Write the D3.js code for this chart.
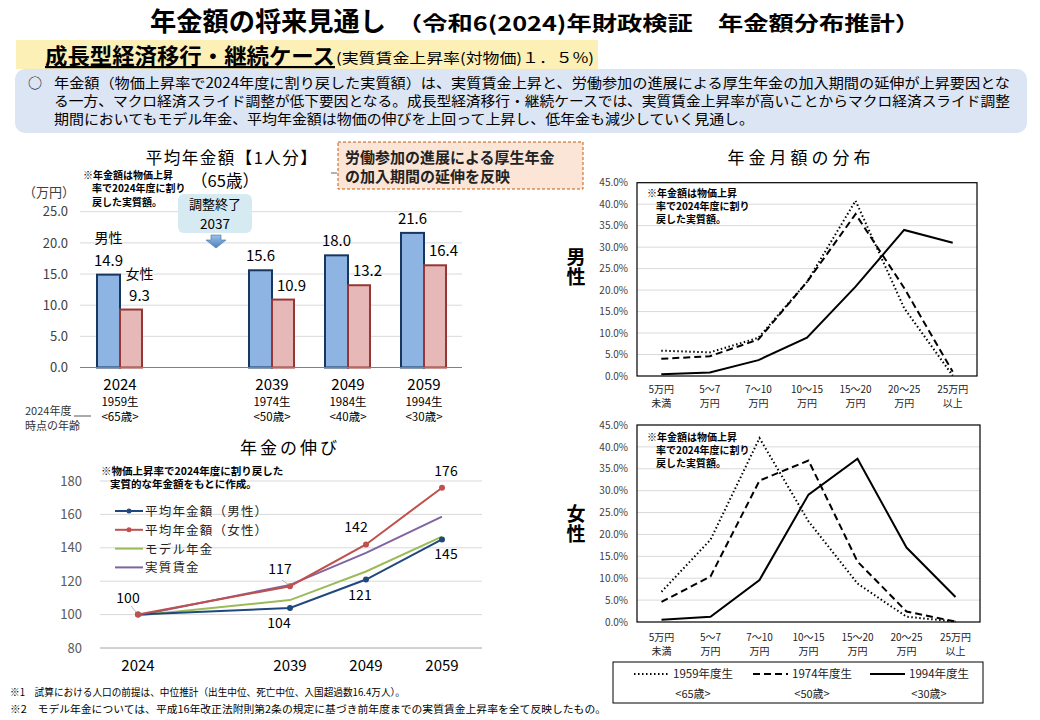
<!DOCTYPE html>
<html><head><meta charset="utf-8">
<script src="https://cdn.jsdelivr.net/npm/d3@7"></script>
<style>
body{margin:0;background:#fff;}
svg{font-family:"Noto Sans CJK JP","Noto Sans",sans-serif;}
</style></head><body>
<svg id="c" width="1040" height="720"></svg>
<script>
// ---------- data ----------
const barYears = ["2024", "2039", "2049", "2059"];
const birthLabels = ["1959生", "1974生", "1984生", "1994生"];
const ageLabels = ["<65歳>", "<50歳>", "<40歳>", "<30歳>"];
const barMale = [14.9, 15.6, 18.0, 21.6];
const barFemale = [9.3, 10.9, 13.2, 16.4];
const barTicks = [0, 5, 10, 15, 20, 25];

const growthYears = ["2024", "2039", "2049", "2059"];
const growthMale = [100, 104, 121, 145];
const growthFemale = [100, 117, 142, 176];
const growthModel = [99.5, 108.7, 125.8, 146.7];
const growthWage = [99.5, 117.8, 137.0, 158.7];
const growthTicks = [80, 100, 120, 140, 160, 180];
const growthNames = ["平均年金額（男性）", "平均年金額（女性）", "モデル年金", "実質賃金"];

const distCats = ["5万円|未満", "5～7|万円", "7～10|万円", "10～15|万円", "15～20|万円", "20～25|万円", "25万円|以上"];
const distCohorts = ["1959年度生", "1974年度生", "1994年度生"];
const distAges = ["<65歳>", "<50歳>", "<30歳>"];
const male1959 = [5.9, 5.5, 8.9, 21.9, 40.8, 15.8, 0.1];
const male1974 = [4.0, 4.6, 8.5, 21.9, 37.7, 20.5, 1.0];
const male1994 = [0.4, 0.8, 3.7, 8.9, 20.8, 34.0, 31.0];
const female1959 = [6.9, 18.8, 42.0, 23.0, 8.8, 1.2, 0.1];
const female1974 = [4.6, 10.4, 32.3, 36.9, 13.8, 2.4, 0.1];
const female1994 = [0.5, 1.2, 9.6, 29.1, 37.3, 17.0, 5.7];
const distTicks = [0, 5, 10, 15, 20, 25, 30, 35, 40, 45];

// ---------- setup ----------
const svg = d3.select("#c");
const JP = '"Noto Sans CJK JP","Noto Sans",sans-serif';

function txt(g, x, y, s, opt = {}) {
  const t = g.append("text").attr("x", x).attr("y", y).text(s)
    .attr("font-size", opt.size || 12)
    .attr("fill", opt.fill || "#000")
    .attr("text-anchor", opt.anchor || "start");
  if (opt.weight) t.attr("font-weight", opt.weight);
  if (opt.ls) t.attr("letter-spacing", opt.ls);
  if (opt.len) t.attr("textLength", opt.len).attr("lengthAdjust", opt.adj || "spacing");
  if (opt.deco) t.attr("text-decoration", opt.deco);
  if (opt.vertical) t.style("writing-mode", "vertical-rl");
  return t;
}

// ---------- header ----------
txt(svg, 150, 31, "年金額の将来見通し", {size: 26, weight: 700, len: 236, adj: "spacingAndGlyphs"});
txt(svg, 397, 31, "（令和6(2024)年財政検証　年金額分布推計）", {size: 20, weight: 700, len: 523, adj: "spacingAndGlyphs"});

svg.append("rect").attr("x", 16).attr("y", 40).attr("width", 582).attr("height", 29).attr("fill", "#fdf0b6");
txt(svg, 45, 64, "成長型経済移行・継続ケース", {size: 22, weight: 700, deco: "underline", len: 290, adj: "spacingAndGlyphs"});
txt(svg, 336, 63, "(実質賃金上昇率(対物価)１．５%)", {size: 14, len: 258, adj: "spacingAndGlyphs"});

svg.append("rect").attr("x", 15).attr("y", 69).attr("width", 1012).attr("height", 64).attr("rx", 10)
  .attr("fill", "#dce5f3");
txt(svg, 28, 88, "○", {size: 14});
txt(svg, 54, 88, "年金額（物価上昇率で2024年度に割り戻した実質額）は、実質賃金上昇と、労働参加の進展による厚生年金の加入期間の延伸が上昇要因とな", {size: 14, len: 956, adj: "spacingAndGlyphs"});
txt(svg, 54, 106, "る一方、マクロ経済スライド調整が低下要因となる。成長型経済移行・継続ケースでは、実質賃金上昇率が高いことからマクロ経済スライド調整", {size: 14, len: 956, adj: "spacingAndGlyphs"});
txt(svg, 54, 124, "期間においてもモデル年金、平均年金額は物価の伸びを上回って上昇し、低年金も減少していく見通し。", {size: 14, len: 700, adj: "spacingAndGlyphs"});

// ---------- bar chart ----------
const gB = svg.append("g");
const slotsB = [barYears[0], "gap", ...barYears.slice(1)];
const xB = d3.scaleBand().domain(slotsB).range([82, 462]);
const yB = d3.scaleLinear().domain([0, 25]).range([367.5, 211.7]);
const bw = 23;

gB.selectAll(".grid").data(barTicks.slice(1)).join("line")
  .attr("x1", 80).attr("x2", 462).attr("y1", d => yB(d)).attr("y2", d => yB(d))
  .attr("stroke", "#d9d9d9").attr("stroke-width", 1);
const axB = gB.append("g").attr("transform", "translate(70,0)")
  .call(d3.axisLeft(yB).tickValues(barTicks).tickFormat(d3.format(".1f")).tickSize(0).tickPadding(2));
axB.select(".domain").remove();
axB.selectAll("text").attr("font-family", JP).attr("font-size", 13).attr("fill", "#404040");
txt(gB, 49, 197, "（万円）", {size: 13, anchor: "middle", fill: "#404040"});

const bData = barYears.map((y, i) => ({y, m: barMale[i], f: barFemale[i], i}));
gB.selectAll(".bm").data(bData).join("rect")
  .attr("x", d => xB(d.y) + xB.bandwidth() / 2 - bw)
  .attr("y", d => yB(d.m)).attr("width", bw).attr("height", d => yB(0) - yB(d.m))
  .attr("fill", "#8eb4e3").attr("stroke", "#17375e").attr("stroke-width", 2);
gB.selectAll(".bf").data(bData).join("rect")
  .attr("x", d => xB(d.y) + xB.bandwidth() / 2)
  .attr("y", d => yB(d.f)).attr("width", bw - 1).attr("height", d => yB(0) - yB(d.f))
  .attr("fill", "#e6b9b8").attr("stroke", "#953735").attr("stroke-width", 2);
gB.append("line").attr("x1", 80).attr("x2", 462).attr("y1", yB(0)).attr("y2", yB(0))
  .attr("stroke", "#808080").attr("stroke-width", 1.2);

bData.forEach(d => {
  const cx = xB(d.y) + xB.bandwidth() / 2;
  txt(gB, cx - bw / 2, yB(d.m) - 9, d.m.toFixed(1), {size: 15, anchor: "middle"});
  txt(gB, cx + bw / 2 + 8, yB(d.f) - 9, d.f.toFixed(1), {size: 15, anchor: "middle"});
  txt(gB, cx, 390, d.y, {size: 15, anchor: "middle"});
  txt(gB, cx, 406, birthLabels[d.i], {size: 11.5, anchor: "middle"});
  txt(gB, cx, 421, ageLabels[d.i], {size: 11.5, anchor: "middle"});
});
{
  const cx0 = xB(barYears[0]) + xB.bandwidth() / 2;
  txt(gB, cx0 - bw / 2, yB(barMale[0]) - 32, "男性", {size: 14, anchor: "middle"});
  txt(gB, cx0 + bw / 2 + 8, yB(barFemale[0]) - 31, "女性", {size: 14, anchor: "middle"});
}
txt(gB, 25, 415, "2024年度", {size: 11, fill: "#333"});
txt(gB, 25, 430, "時点の年齢", {size: 11, fill: "#333"});
gB.append("line").attr("x1", 74).attr("x2", 91).attr("y1", 416).attr("y2", 416).attr("stroke", "#555");

txt(gB, 232, 164, "平均年金額【1人分】", {size: 16.5, anchor: "middle", ls: 1.5});
txt(gB, 225, 187, "（65歳）", {size: 16.5, anchor: "middle"});
txt(gB, 83, 179, "※年金額は物価上昇", {size: 10, weight: 700});
txt(gB, 92, 192, "率で2024年度に割り", {size: 10, weight: 700});
txt(gB, 92, 206, "戻した実質額。", {size: 10, weight: 700});

// callout
gB.append("rect").attr("x", 178).attr("y", 194).attr("width", 74).attr("height", 39).attr("rx", 6).attr("fill", "#d6eaf2");
txt(gB, 215, 209, "調整終了", {size: 13, anchor: "middle"});
txt(gB, 215, 229, "2037", {size: 13.5, anchor: "middle"});
const grad = svg.append("defs").append("linearGradient").attr("id", "ag").attr("x1", 0).attr("x2", 0).attr("y1", 0).attr("y2", 1);
grad.append("stop").attr("offset", 0).attr("stop-color", "#9dc3e6");
grad.append("stop").attr("offset", 1).attr("stop-color", "#4a7fc1");
gB.append("path").attr("d", "M211,235 L221,235 L221,240 L226,240 L216,248 L206,240 L211,240 Z")
  .attr("fill", "url(#ag)").attr("stroke", "#41719c").attr("stroke-width", 0.6);

// orange box
gB.append("line").attr("x1", 331).attr("x2", 337).attr("y1", 173).attr("y2", 173).attr("stroke", "#666");
gB.append("rect").attr("x", 338).attr("y", 142).attr("width", 245).attr("height", 47)
  .attr("fill", "#fbe5d6").attr("stroke", "#c55a11").attr("stroke-dasharray", "3,2").attr("stroke-width", 1);
txt(gB, 345, 163, "労働参加の進展による厚生年金", {size: 15, weight: 700, fill: "#222"});
txt(gB, 345, 182, "の加入期間の延伸を反映", {size: 15, weight: 700, fill: "#222"});

// ---------- growth line chart ----------
const gL = svg.append("g");
const slotsL = [growthYears[0], "gap", ...growthYears.slice(1)];
const xL = d3.scaleBand().domain(slotsL).range([100, 480]);
const yL = d3.scaleLinear().domain([80, 180]).range([648, 481]);
const px = y => xL(y) + xL.bandwidth() / 2;

gL.selectAll(".grid").data(growthTicks).join("line")
  .attr("x1", 100).attr("x2", 482).attr("y1", d => yL(d)).attr("y2", d => yL(d))
  .attr("stroke", d => d === 80 ? "#a6a6a6" : "#d9d9d9").attr("stroke-width", 1);
const axL = gL.append("g").attr("transform", "translate(84,0)")
  .call(d3.axisLeft(yL).tickValues(growthTicks).tickSize(0).tickPadding(2));
axL.select(".domain").remove();
axL.selectAll("text").attr("font-family", JP).attr("font-size", 13).attr("fill", "#595959");
growthYears.forEach(y => txt(gL, px(y), 671, y, {size: 15, anchor: "middle"}));

const series = [
  {v: growthWage, c: "#8064a2", dot: false},
  {v: growthModel, c: "#9bbb59", dot: false},
  {v: growthMale, c: "#1f497d", dot: true},
  {v: growthFemale, c: "#c0504d", dot: true},
];
const line = d3.line().x((d, i) => px(growthYears[i])).y(d => yL(d));
series.forEach(s => {
  gL.append("path").attr("d", line(s.v)).attr("fill", "none").attr("stroke", s.c).attr("stroke-width", 2);
  if (s.dot) gL.selectAll(null).data(s.v).join("circle")
    .attr("cx", (d, i) => px(growthYears[i])).attr("cy", d => yL(d)).attr("r", 3).attr("fill", s.c);
});
// labels
growthFemale.forEach((v, i) => {
  const dx = i === 3 ? 4 : -10;
  txt(gL, px(growthYears[i]) + dx, yL(v) - 12, String(v), {size: 14, anchor: "middle"});
});
growthMale.forEach((v, i) => {
  if (i === 0) return;
  const dx = i === 3 ? 4 : (i === 1 ? -11 : -6);
  txt(gL, px(growthYears[i]) + dx, yL(v) + 20, String(v), {size: 14, anchor: "middle"});
});
gL.append("line").attr("x1", 136).attr("y1", 612).attr("x2", 131).attr("y2", 606).attr("stroke", "#999").attr("stroke-width", 0.7);
gL.append("line").attr("x1", 289).attr("y1", 585).attr("x2", 282).attr("y2", 580).attr("stroke", "#999").attr("stroke-width", 0.7);

// legend
const legColors = ["#1f497d", "#c0504d", "#9bbb59", "#8064a2"];
growthNames.forEach((n, i) => {
  const y = 511 + i * 18.8;
  gL.append("line").attr("x1", 115).attr("x2", 143).attr("y1", y).attr("y2", y).attr("stroke", legColors[i]).attr("stroke-width", 2);
  if (i < 2) gL.append("circle").attr("cx", 129).attr("cy", y).attr("r", 2.5).attr("fill", legColors[i]);
  txt(gL, 145, y + 5, n, {size: 12.5, ls: 1.2, fill: "#222"});
});
txt(gL, 290, 454, "年金の伸び", {size: 17, anchor: "middle", ls: 3});
txt(gL, 101, 475, "※物価上昇率で2024年度に割り戻した", {size: 10.5, weight: 700});
txt(gL, 110, 488, "実質的な年金額をもとに作成。", {size: 10.5, weight: 700});

// ---------- distribution charts ----------
function distChart(top, bottom, left, right, data, labelY, sideLabel, sideY, noteY) {
  const g = svg.append("g");
  const x = d3.scaleBand().domain(distCats).range([left, right]);
  const y = d3.scaleLinear().domain([0, 45]).range([bottom, top]);
  g.selectAll(".grid").data(distTicks.slice(1, -1)).join("line")
    .attr("x1", left).attr("x2", right).attr("y1", d => y(d)).attr("y2", d => y(d))
    .attr("stroke", "#d9d9d9");
  g.append("rect").attr("x", left).attr("y", top).attr("width", right - left).attr("height", bottom - top)
    .attr("fill", "none").attr("stroke", "#000").attr("stroke-width", 1.2);
  const ax = g.append("g").attr("transform", `translate(${left - 9},0)`)
    .call(d3.axisLeft(y).tickValues(distTicks).tickFormat(d => d.toFixed(1) + "%").tickSize(0).tickPadding(0));
  ax.select(".domain").remove();
  ax.selectAll("text").attr("font-family", JP).attr("font-size", 10).attr("fill", "#404040");
  distCats.forEach(c => {
    const [a, b] = c.split("|");
    txt(g, x(c) + x.bandwidth() / 2, labelY, a, {size: 10, anchor: "middle", fill: "#222"});
    txt(g, x(c) + x.bandwidth() / 2, labelY + 14, b, {size: 10, anchor: "middle", fill: "#222"});
  });
  const dashes = ["1.5,2.5", "7,4", null];
  const ln = d3.line().x((d, i) => x(distCats[i]) + x.bandwidth() / 2).y(d => y(d));
  data.forEach((s, k) => {
    const p = g.append("path").attr("d", ln(s)).attr("fill", "none").attr("stroke", "#000").attr("stroke-width", 2);
    if (dashes[k]) p.attr("stroke-dasharray", dashes[k]);
  });
  txt(g, 576, sideY, sideLabel, {size: 19, weight: 700, anchor: "start", vertical: true, ls: 1});
  txt(g, 647, noteY, "※年金額は物価上昇", {size: 10, weight: 700});
  txt(g, 656, noteY + 13, "率で2024年度に割り", {size: 10, weight: 700});
  txt(g, 656, noteY + 26, "戻した実質額。", {size: 10, weight: 700});
}
distChart(182.7, 376, 637, 977, [male1959, male1974, male1994], 393, "男性", 247, 197);
distChart(425, 622, 637, 980, [female1959, female1974, female1994], 641, "女性", 504, 441);
txt(svg, 801, 164, "年金月額の分布", {size: 17, anchor: "middle", ls: 4});

// legend box
const gLeg = svg.append("g");
gLeg.append("rect").attr("x", 613).attr("y", 662).attr("width", 370).attr("height", 41)
  .attr("fill", "#fff").attr("stroke", "#000").attr("stroke-width", 1);
const legX = [634, 753, 870];
const legDash = ["1.5,2.5", "7,4", null];
distCohorts.forEach((c, i) => {
  const l = gLeg.append("line").attr("x1", legX[i]).attr("x2", legX[i] + 35).attr("y1", 674).attr("y2", 674)
    .attr("stroke", "#000").attr("stroke-width", 2);
  if (legDash[i]) l.attr("stroke-dasharray", legDash[i]);
  txt(gLeg, legX[i] + 39, 678, c, {size: 11.5, fill: "#222"});
  txt(gLeg, legX[i] + 59, 698, distAges[i], {size: 11, anchor: "middle", fill: "#222"});
});

// ---------- footnotes ----------
txt(svg, 10, 696, "※1　試算における人口の前提は、中位推計（出生中位、死亡中位、入国超過数16.4万人）。", {size: 10, len: 395, adj: "spacingAndGlyphs"});
txt(svg, 10, 713, "※2　モデル年金については、平成16年改正法附則第2条の規定に基づき前年度までの実質賃金上昇率を全て反映したもの。", {size: 10, len: 596, adj: "spacingAndGlyphs"});
</script>
</body></html>
